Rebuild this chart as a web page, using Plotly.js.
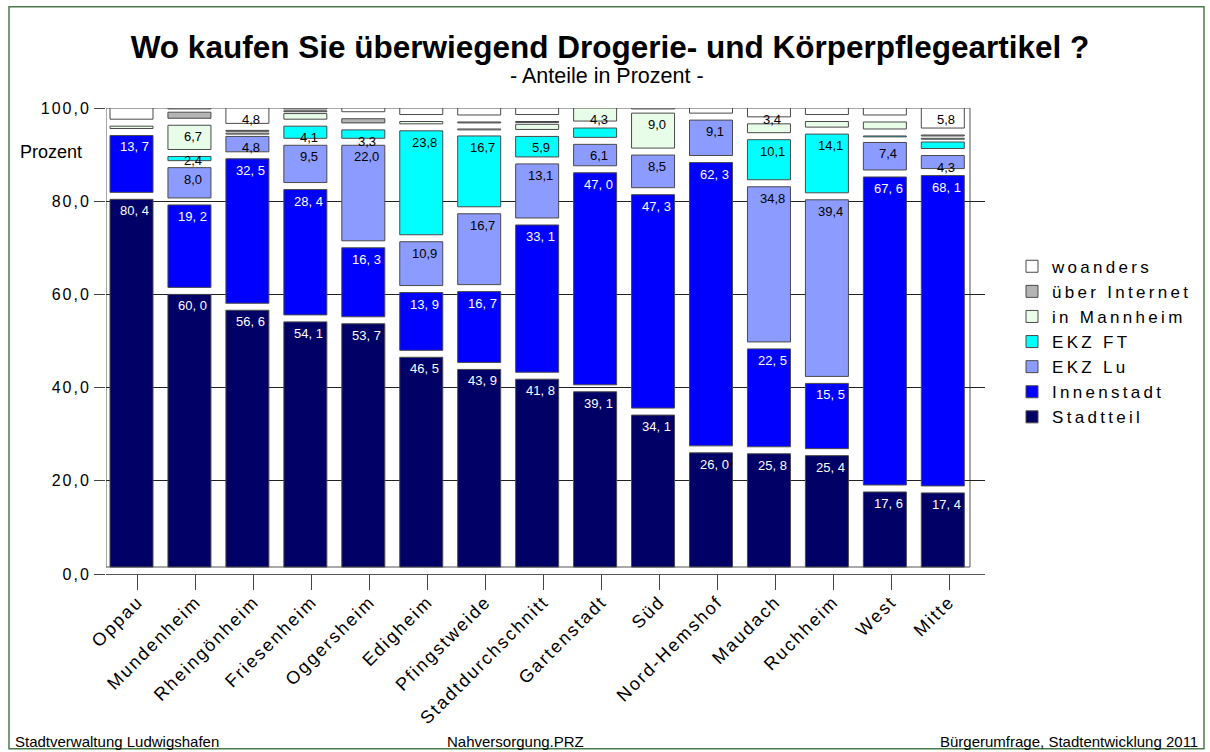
<!DOCTYPE html>
<html>
<head>
<meta charset="utf-8">
<script src="https://cdn.plot.ly/plotly-3.0.1.min.js"></script>
<style>
  html, body { margin: 0; padding: 0; background: #fff; }
  #chart { width: 1210px; height: 752px; }
  .legendtext { letter-spacing: 3.3px; }
  #chart .ytick text { letter-spacing: 2px; }
  #chart .xtick text { letter-spacing: 2px; }
</style>
</head>
<body>
<div id="chart"></div>
<script>
// ---- data (Anteile in Prozent) ----
const categories = ['Oppau','Mundenheim','Rheingönheim','Friesenheim','Oggersheim','Edigheim','Pfingstweide','Stadtdurchschnitt','Gartenstadt','Süd','Nord-Hemshof','Maudach','Ruchheim','West','Mitte'];

const stadtteil  = [80.4, 60.0, 56.6, 54.1, 53.7, 46.5, 43.9, 41.8, 39.1, 34.1, 26.0, 25.8, 25.4, 17.6, 17.4];
const innenstadt = [13.7, 19.2, 32.5, 28.4, 16.3, 13.9, 16.7, 33.1, 47.0, 47.3, 62.3, 22.5, 15.5, 67.6, 68.1];
const ekzLu      = [0.0, 8.0, 4.8, 9.5, 22.0, 10.9, 16.7, 13.1, 6.1, 8.5, 9.1, 34.8, 39.4, 7.4, 4.3];
const ekzFT      = [0.0, 2.4, 0.0, 4.1, 3.3, 23.8, 16.7, 5.9, 3.5, 0.0, 0.0, 10.1, 14.1, 1.4, 2.9];
const inMannheim = [2.0, 6.7, 0.7, 2.7, 0.0, 2.0, 1.5, 2.6, 4.3, 9.0, 0.0, 3.4, 2.7, 3.0, 0.8];
const internet   = [0.0, 2.8, 0.6, 0.6, 2.4, 0.0, 1.5, 0.6, 0.0, 0.0, 0.0, 0.0, 0.0, 0.0, 0.7];
const woanders   = [3.9, 0.9, 4.8, 0.6, 2.3, 2.9, 3.0, 2.9, 0.0, 1.1, 2.6, 3.4, 2.9, 3.0, 5.8];

// which values carry a printed label in the original (1 = label shown)
const lblStadtteil  = [1,1,1,1,1,1,1,1,1,1,1,1,1,1,1];
const lblInnenstadt = [1,1,1,1,1,1,1,1,1,1,1,1,1,1,1];
const lblEkzLu      = [0,1,1,1,1,1,1,1,1,1,1,1,1,1,1];
const lblEkzFT      = [0,1,0,1,1,1,1,1,0,0,0,1,1,0,0];
const lblMannheim   = [0,1,0,0,0,0,0,0,1,1,0,0,0,0,0];
const lblInternet   = [0,0,0,0,0,0,0,0,0,0,0,0,0,0,0];
const lblWoanders   = [1,0,1,0,0,0,0,0,0,0,0,1,0,0,1];

const yTicks = [0, 20, 40, 60, 80, 100];

const series = [
  {name: 'Stadtteil',    values: stadtteil,  lbl: lblStadtteil,  color: '#000066', txt: '#ffffff', sep: ', '},
  {name: 'Innenstadt',   values: innenstadt, lbl: lblInnenstadt, color: '#0000ff', txt: '#ffffff', sep: ', '},
  {name: 'EKZ Lu',       values: ekzLu,      lbl: lblEkzLu,      color: '#8c9bff', txt: '#000000', sep: ','},
  {name: 'EKZ FT',       values: ekzFT,      lbl: lblEkzFT,      color: '#00ffff', txt: '#000000', sep: ','},
  {name: 'in Mannheim',  values: inMannheim, lbl: lblMannheim,   color: '#e8fde8', txt: '#000000', sep: ','},
  {name: 'über Internet',values: internet,   lbl: lblInternet,   color: '#b4b4b4', txt: '#000000', sep: ','},
  {name: 'woanders',     values: woanders,   lbl: lblWoanders,   color: '#ffffff', txt: '#000000', sep: ','}
];

// ---- style ----
const FONT = 'Liberation Sans, Arial, Helvetica, sans-serif';
const BAR_W = 0.742, BAR_OFF = -0.483;   // bar width / offset in category units
const XRANGE = [-0.552, 14.616];
const OUTLINE = '#4a4a4a';
const GAP = 1.5;        // white gap drawn at the foot of every segment (percentage units)
const MIN_H = 0.2;      // tiny segments still show as a hairline box
const PX_PER_UNIT = 4.66;

const traces = [];
const cumBefore = categories.map(() => 0);
const annotations = [];

series.forEach(s => {
  const base = [], h = [];
  s.values.forEach((v, i) => {
    const top = cumBefore[i] + v;
    if (v > 0) {
      const bottom = Math.min(cumBefore[i] + GAP, top - MIN_H);
      base.push(bottom);
      h.push(top - bottom);
    } else {
      base.push(null);
      h.push(null);
    }
    if (s.lbl[i]) {
      const small = v * PX_PER_UNIT < 13;
      annotations.push({
        x: categories[i], y: small ? top - v / 2 : top, xref: 'x', yref: 'y',
        text: v.toFixed(1).replace('.', s.sep),
        showarrow: false, yanchor: small ? 'middle' : 'top', xanchor: 'center',
        xshift: -3, yshift: small ? 2 : -2,
        font: {family: FONT, size: 13, color: s.txt}
      });
    }
    cumBefore[i] = top;
  });
  traces.push({
    type: 'bar', x: categories, y: h, base: base, name: s.name,
    width: BAR_W, offset: BAR_OFF,
    customdata: s.values,
    marker: {color: s.color, line: {color: OUTLINE, width: 1}},
    hovertemplate: '%{x}<br>' + s.name + ': %{customdata:.1f}<extra></extra>'
  });
});

const P = (px) => (px - 106) / 879;          // paper x from pixel
const Q = (py) => (574.3 - py) / 466;        // paper y from pixel

annotations.push(
  {text: '- Anteile in Prozent -', xref: 'paper', yref: 'paper', x: P(607), y: Q(76),
   showarrow: false, xanchor: 'center', yanchor: 'middle', font: {family: FONT, size: 21.5, color: '#000'}},
  {text: 'Prozent', xref: 'paper', yref: 'paper', x: P(18), y: Q(152),
   showarrow: false, xanchor: 'left', yanchor: 'middle', font: {family: FONT, size: 18, color: '#000'}},
  {text: 'Stadtverwaltung Ludwigshafen', xref: 'paper', yref: 'paper', x: P(13), y: Q(742),
   showarrow: false, xanchor: 'left', yanchor: 'middle', font: {family: FONT, size: 15, color: '#000'}},
  {text: 'Nahversorgung.PRZ', xref: 'paper', yref: 'paper', x: P(515), y: Q(742),
   showarrow: false, xanchor: 'center', yanchor: 'middle', font: {family: FONT, size: 15, color: '#000'}},
  {text: 'Bürgerumfrage, Stadtentwicklung 2011', xref: 'paper', yref: 'paper', x: P(1200), y: Q(742),
   showarrow: false, xanchor: 'right', yanchor: 'middle', font: {family: FONT, size: 15, color: '#000'}}
);

const layout = {
  width: 1210, height: 752,
  margin: {l: 106, r: 225, t: 108, b: 178, pad: 0},
  paper_bgcolor: '#ffffff', plot_bgcolor: '#ffffff',
  barmode: 'overlay',
  separators: ',.',
  font: {family: FONT, color: '#000'},
  title: {text: '<b>Wo kaufen Sie überwiegend Drogerie- und Körperpflegeartikel ?</b>',
          xref: 'container', yref: 'container', x: 610 / 1210, y: 1 - 47 / 752,
          xanchor: 'center', yanchor: 'middle',
          font: {family: FONT, size: 31.5, color: '#000'}},
  xaxis: {
    type: 'category', categoryorder: 'array', categoryarray: categories,
    range: XRANGE, showgrid: false, zeroline: false,
    showline: true, linecolor: '#555', linewidth: 1,
    ticks: 'outside', ticklen: 15, tickcolor: '#444', tickwidth: 1,
    ticklabelstandoff: -6,
    tickangle: -45, tickfont: {family: FONT, size: 18, color: '#000'},
    fixedrange: true
  },
  yaxis: {
    range: [0, 100], tickvals: yTicks, tickformat: '.1f',
    showgrid: true, gridcolor: '#222', gridwidth: 1, zeroline: false,
    showline: false, ticks: 'outside', ticklen: 11, tickcolor: '#444',
    tickfont: {family: FONT, size: 16, color: '#000'},
    fixedrange: true
  },
  legend: {
    x: P(1012), y: Q(249), xanchor: 'left', yanchor: 'top',
    traceorder: 'reversed', bgcolor: 'rgba(0,0,0,0)',
    font: {family: FONT, size: 17, color: '#000'}
  },
  annotations: annotations,
  shapes: [
    {type: 'rect', xref: 'x', yref: 'y', x0: -0.552, x1: 14.357, y0: GAP, y1: 100,
     line: {color: '#555', width: 1}, fillcolor: 'rgba(0,0,0,0)', layer: 'below'},
    {type: 'rect', xref: 'paper', yref: 'paper', x0: P(9), x1: P(1204), y0: Q(749), y1: Q(7),
     line: {color: '#4b7a4b', width: 1.5}, fillcolor: 'rgba(0,0,0,0)'}
  ],
  hovermode: 'closest'
};

Plotly.newPlot('chart', traces, layout, {displayModeBar: false, responsive: false});
</script>
</body>
</html>
